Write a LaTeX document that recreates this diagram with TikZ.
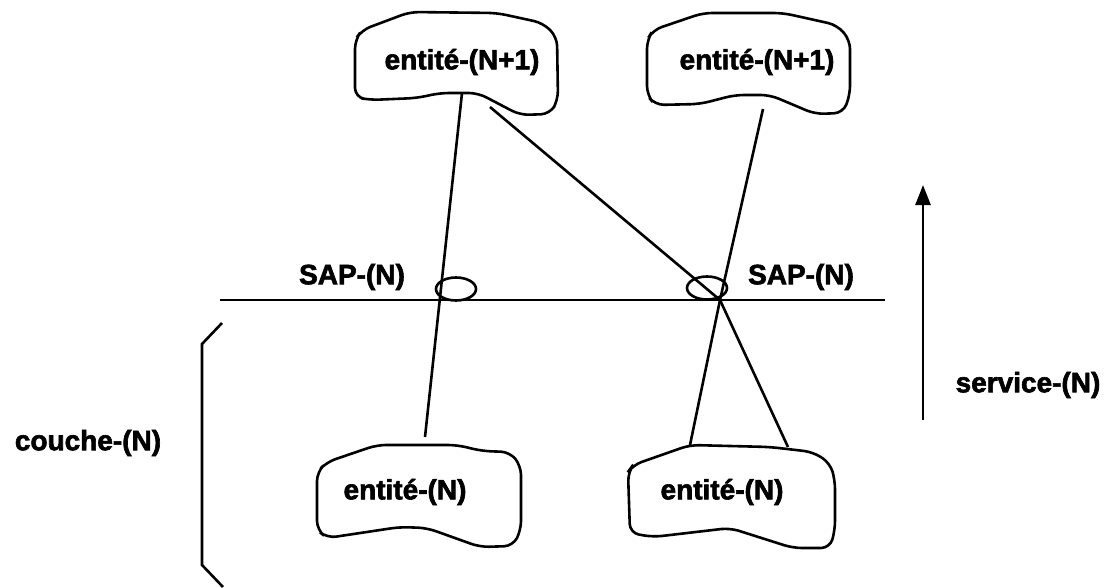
\documentclass[tikz,border=0pt]{standalone}
\usepackage{fontspec}
\setmainfont{Liberation Sans}[BoldFeatures={FakeBold=2.2}]
\usetikzlibrary{arrows.meta,shapes.geometric}

\begin{document}
\begin{tikzpicture}[x=1pt,y=-1pt,
  label/.style={font=\fontsize{28}{30}\selectfont\bfseries,inner sep=0pt},
  blob/.style={draw,line width=2.6pt,rounded corners=9pt},
  sap/.style={ellipse,draw,fill=white,line width=2.6pt,minimum width=40pt,
              minimum height=23pt,inner sep=0pt},
  link/.style={line width=2.6pt},
  arrow/.style={-{Triangle[width=15pt,length=20pt]},line width=2.6pt}]

\useasboundingbox (0,0) rectangle (1110,588);

% entities, layer N+1
\node[label] (ent1a) at (462,62) {entité-(N+1)};
\node[label] (ent1b) at (757,62) {entité-(N+1)};
\draw[blob] (355,40) -- (362,30) -- (410,12) -- (497,13) -- (543,23) -- (557,37)
  -- (558,100) -- (550,114) -- (520,115) -- (478,93) -- (440,93) -- (417,98)
  -- (370,100) -- (355,97) -- cycle;
\draw[blob] (647,40) -- (653,30) -- (703,13) -- (783,13) -- (837,25) -- (850,40)
  -- (850,95) -- (843,113) -- (815,114) -- (770,95) -- (735,95) -- (700,104)
  -- (655,105) -- (647,95) -- cycle;

% entities, layer N
\node[label] (ent0a) at (405,492) {entité-(N)};
\node[label] (ent0b) at (722,492) {entité-(N)};
\draw[blob] (317,472) -- (327,462) -- (377,445) -- (457,445) -- (482,451) -- (510,452)
  -- (521,466) -- (521,530) -- (513,546) -- (480,547) -- (427,528) -- (400,527)
  -- (327,538) -- (317,530) -- cycle;
\draw[blob] (628,472) -- (633,465) -- (690,445) -- (770,447) -- (813,452) -- (830,463)
  -- (835,480) -- (835,530) -- (830,548) -- (793,548) -- (730,528) -- (653,537)
  -- (630,533) -- cycle;

% layer boundary and access points
\coordinate (bnd-w) at (220,300);
\coordinate (bnd-e) at (885,300);
\draw[link] (bnd-w) -- (bnd-e);
\node[sap] (sap1) at (456,289) {};
\node[sap] (sap2) at (707,288) {};
\node[label] (sap1-l) at (352,277) {SAP-(N)};
\node[label] (sap2-l) at (801,277) {SAP-(N)};

\coordinate (a1) at (462,93);
\coordinate (a2) at (490,107);
\coordinate (a3) at (763,109);
\coordinate (x2) at (720,300);
\coordinate (b1) at (425,437);
\coordinate (b2) at (690,445);
\coordinate (b3) at (788,447);
\draw[link] (a1) -- (b1);
\draw[link] (a2) -- (x2);
\draw[link] (a3) -- (x2);
\draw[link] (x2) -- (b2);
\draw[link] (x2) -- (b3);

% layer bracket
\draw[link] (222,323) -- (202,344) -- (202,565) -- (223,587);
\node[label] (layer) at (88,443) {couche-(N)};

% service arrow
\coordinate (srv-s) at (923,420);
\coordinate (srv-t) at (923,185);
\draw[arrow] (srv-s) -- (srv-t);
\node[label] (srv) at (1028,385) {service-(N)};
\end{tikzpicture}
\end{document}
